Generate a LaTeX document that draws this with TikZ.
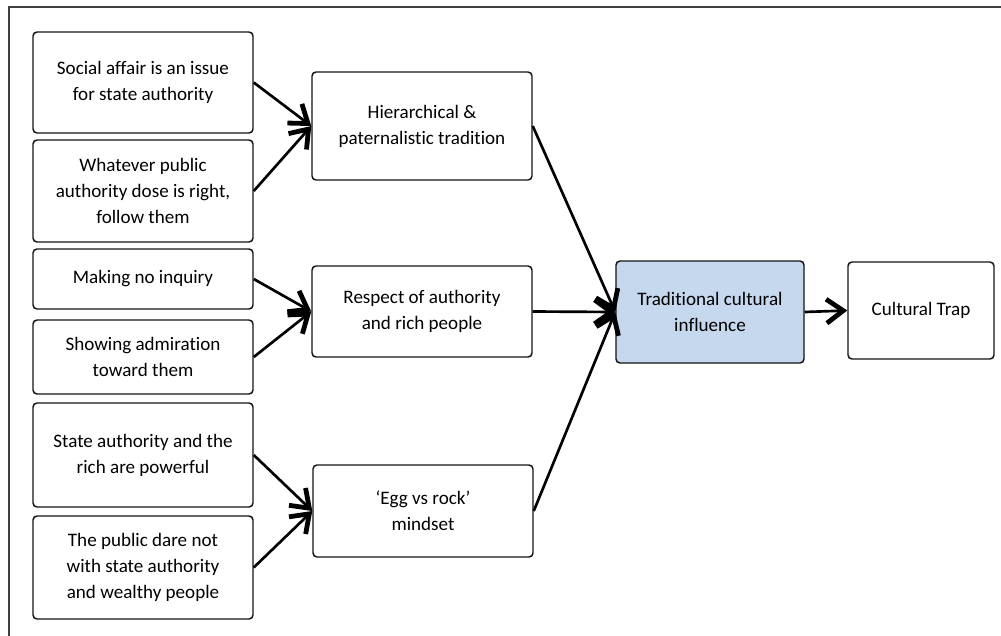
\documentclass[tikz,border=0pt]{standalone}
\usepackage{fontspec}
\setmainfont{Carlito}[Ligatures=NoCommon]
\usetikzlibrary{arrows.meta}
\definecolor{framegray}{RGB}{64,64,64}
\definecolor{boxline}{RGB}{20,20,20}
\definecolor{hilite}{RGB}{198,216,238}
\tikzset{
  box/.style={draw=boxline, line width=1.1pt, rounded corners=3pt, fill=white,
    align=center, inner sep=0pt, minimum width=165pt,
    font=\fontsize{14.3}{19.5}\selectfont},
  conn/.style={line width=2pt,
    -{Straight Barb[length=12.5pt,width=18pt,line width=3.6pt]}}
}
\begin{document}
\begin{tikzpicture}[x=0.75pt,y=-0.75pt]
\useasboundingbox (0,0) rectangle (1001,636);
\clip (0,0) rectangle (1001,636);
% outer frame (runs off the right and bottom edges)
\draw[framegray, line width=1.6pt] (9,660) -- (9,7) -- (1020,7);

% left column: contributing factors
\node[box, minimum height=75.75pt] (a1) at (143,82.5) {Social affair is an issue\\for state authority};
\node[box, minimum height=76.5pt] (a2) at (143,191) {Whatever public\\authority dose is right,\\follow them};
\node[box, minimum height=45pt] (b1) at (143,279) {Making no inquiry};
\node[box, minimum height=55.5pt] (b2) at (143,357) {Showing admiration\\toward them};
\node[box, minimum height=78pt] (c1) at (143,455) {State authority and the\\rich are powerful};
\node[box, minimum height=77.25pt] (c2) at (143,567.5) {The public dare not\\with state authority\\and wealthy people};

% middle column: traditions
\node[box, minimum height=81pt] (h) at (422,126) {Hierarchical \&\\paternalistic tradition};
\node[box, minimum height=68.25pt] (r) at (422,311.5) {Respect of authority\\and rich people};
\node[box, minimum height=69pt] (e) at (423,511) {‘Egg vs rock’\\mindset};

% outcome
\node[box, fill=hilite, minimum width=141pt, minimum height=76.5pt] (t) at (710,312) {Traditional cultural\\influence};
\node[box, minimum width=109.5pt, minimum height=72.75pt] (ct) at (921,310.5) {Cultural Trap};

% connectors
\draw[conn] (a1.east) -- (h.west);
\draw[conn] (a2.east) -- (h.west);
\draw[conn] (b1.east) -- (r.west);
\draw[conn] (b2.east) -- (r.west);
\draw[conn] (c1.east) -- (e.west);
\draw[conn] (c2.east) -- (e.west);
\draw[conn] (h.east) -- (t.west);
\draw[conn] (r.east) -- (t.west);
\draw[conn] (e.east) -- (t.west);
\draw[conn] (t.east) -- (ct.west);
\end{tikzpicture}
\end{document}
